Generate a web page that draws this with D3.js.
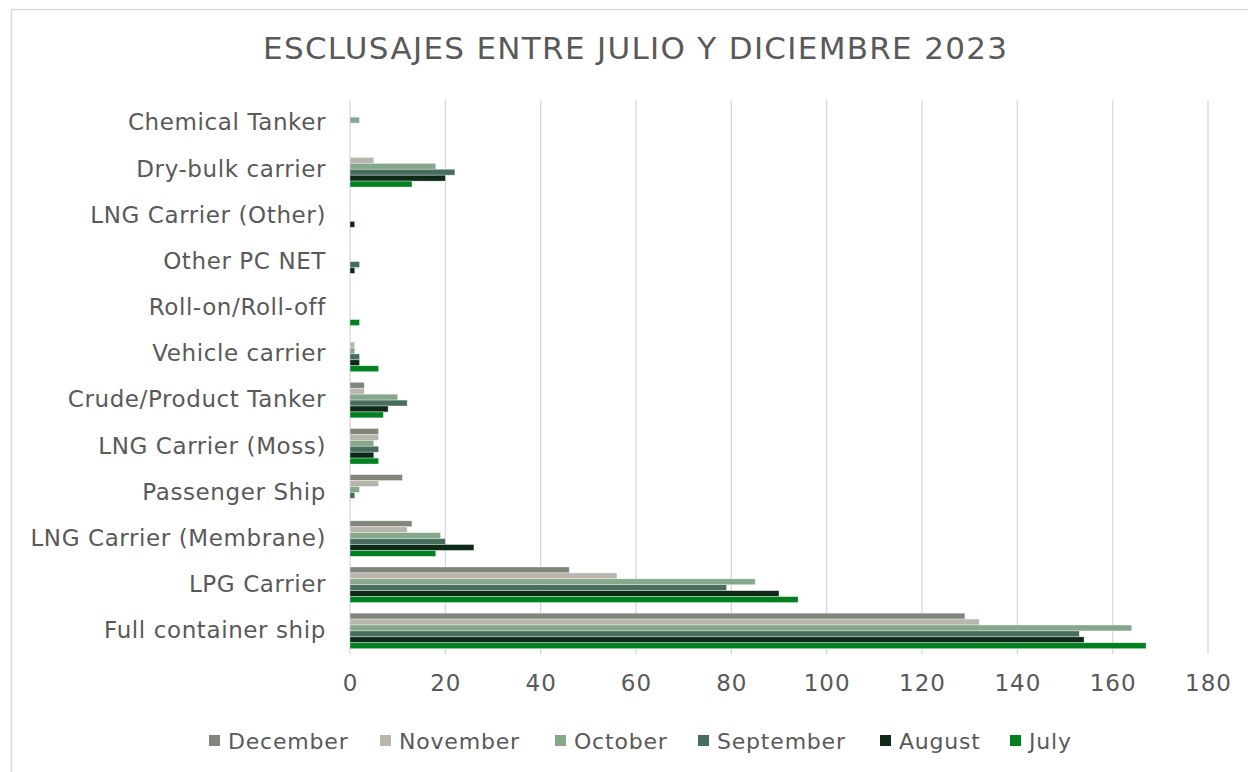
<!DOCTYPE html>
<html lang="es">
  <head>
    <meta charset="utf-8">
    <title>Esclusajes julio-diciembre 2023</title>
    <script src="https://d3js.org/d3.v7.js"></script>
    <style>
      body { margin: 0; background: #fff; }
      text { font-family: "DejaVu Sans", Verdana, sans-serif; fill: #595959; }
    </style>
  </head>
  <body>
    <script type="text/javascript">

      // categories, top to bottom as drawn
      var categories = ["Chemical Tanker", "Dry-bulk carrier", "LNG Carrier (Other)", "Other PC NET",
        "Roll-on/Roll-off", "Vehicle carrier", "Crude/Product Tanker", "LNG Carrier (Moss)",
        "Passenger Ship", "LNG Carrier (Membrane)", "LPG Carrier", "Full container ship"];

      var months = ["December", "November", "October", "September", "August", "July"];
      var colors = ["#80877a", "#b9b5ad", "#85a88b", "#466d5e", "#0c2a16", "#01801f"];

      // values per month, same order as categories
      var december  = [0, 0, 0, 0, 0, 0, 3, 6, 11, 13, 46, 129];
      var november  = [0, 5, 0, 0, 0, 1, 3, 6, 6, 12, 56, 132];
      var october   = [2, 18, 0, 0, 0, 1, 10, 5, 2, 19, 85, 164];
      var september = [0, 22, 0, 2, 0, 2, 12, 6, 1, 20, 79, 153];
      var august    = [0, 20, 1, 1, 0, 2, 8, 5, 0, 26, 90, 154];
      var july      = [0, 13, 0, 0, 2, 6, 7, 6, 0, 18, 94, 167];

      var xTicks = [0, 20, 40, 60, 80, 100, 120, 140, 160, 180];

      var series = [december, november, october, september, august, july];

      var w = 1248, h = 772;
      var margin = {top: 100, right: 40, bottom: 118, left: 350};
      var innerWidth = 1208 - margin.left;
      var innerHeight = h - margin.top - margin.bottom;

      var svg = d3.select("body").append("svg")
        .attr("width", w)
        .attr("height", h);

      // chart border (only left and top edges are inside the picture)
      svg.append("path")
        .attr("d", `M11.5,${h} V9.5 H${w}`)
        .attr("fill", "none")
        .attr("stroke", "#d9d9d9")
        .attr("stroke-width", 1.5);

      svg.append("text")
        .attr("x", 635).attr("y", 59)
        .attr("text-anchor", "middle")
        .attr("textLength", 744)
        .attr("lengthAdjust", "spacing")
        .style("font-size", "31px")
        .text("ESCLUSAJES ENTRE JULIO Y DICIEMBRE 2023");

      var xScale = d3.scaleLinear()
        .domain([0, 180])
        .range([0, innerWidth]);

      var yScale = d3.scaleBand()
        .domain(categories)
        .range([0, innerHeight])
        .paddingInner(0.23)
        .paddingOuter(0.115);

      var ySub = d3.scaleBand()
        .domain(months)
        .range([0, yScale.bandwidth()]);

      var chart = svg.append("g")
        .attr("transform", `translate(${margin.left}, ${margin.top})`);

      // grid lines
      chart.selectAll(".grid")
        .data(xTicks).enter().append("line")
        .attr("class", "grid")
        .attr("x1", d => xScale(d)).attr("x2", d => xScale(d))
        .attr("y1", 0).attr("y2", innerHeight)
        .attr("stroke", "#d9d9d9")
        .attr("stroke-width", 1.3);

      // bars
      var rows = [];
      categories.forEach(function(c, i) {
        months.forEach(function(m, j) {
          rows.push({cat: c, month: m, value: series[j][i], color: colors[j]});
        });
      });

      chart.selectAll(".bar")
        .data(rows.filter(d => d.value > 0)).enter().append("rect")
        .attr("class", "bar")
        .attr("x", xScale(0))
        .attr("y", d => yScale(d.cat) + ySub(d.month))
        .attr("width", d => xScale(d.value) - xScale(0))
        .attr("height", ySub.bandwidth())
        .attr("fill", d => d.color)
        .attr("stroke", "#ffffff")
        .attr("stroke-opacity", 0.6)
        .attr("stroke-width", 0.6);

      // x axis labels
      var xAxis = d3.axisBottom(xScale)
        .tickValues(xTicks)
        .tickSize(0)
        .tickPadding(21);
      var gx = chart.append("g")
        .attr("transform", `translate(0, ${innerHeight})`)
        .call(xAxis);
      gx.select(".domain").remove();
      gx.selectAll("text")
        .style("font-size", "23px")
        .style("letter-spacing", "1px")
        .style("font-family", "'DejaVu Sans', Verdana, sans-serif")
        .attr("fill", "#595959");

      // y axis labels
      var yAxis = d3.axisLeft(yScale)
        .tickSize(0)
        .tickPadding(24);
      var gy = chart.append("g").call(yAxis);
      gy.select(".domain").remove();
      gy.selectAll("text")
        .style("font-size", "23px")
        .style("letter-spacing", "0.6px")
        .style("font-family", "'DejaVu Sans', Verdana, sans-serif")
        .attr("fill", "#595959");

      // legend
      var legendX = [209, 380, 555, 698, 880, 1010];
      var legend = svg.append("g");
      var items = legend.selectAll("g")
        .data(months).enter().append("g")
        .attr("transform", (d, i) => `translate(${legendX[i]}, 740)`);
      items.append("rect")
        .attr("x", 0).attr("y", -5)
        .attr("width", 11).attr("height", 11)
        .attr("fill", (d, i) => colors[i]);
      items.append("text")
        .attr("x", 19).attr("y", 8.5)
        .style("font-size", "22px")
        .style("letter-spacing", "0.8px")
        .text(d => d);

    </script>
  </body>
</html>
